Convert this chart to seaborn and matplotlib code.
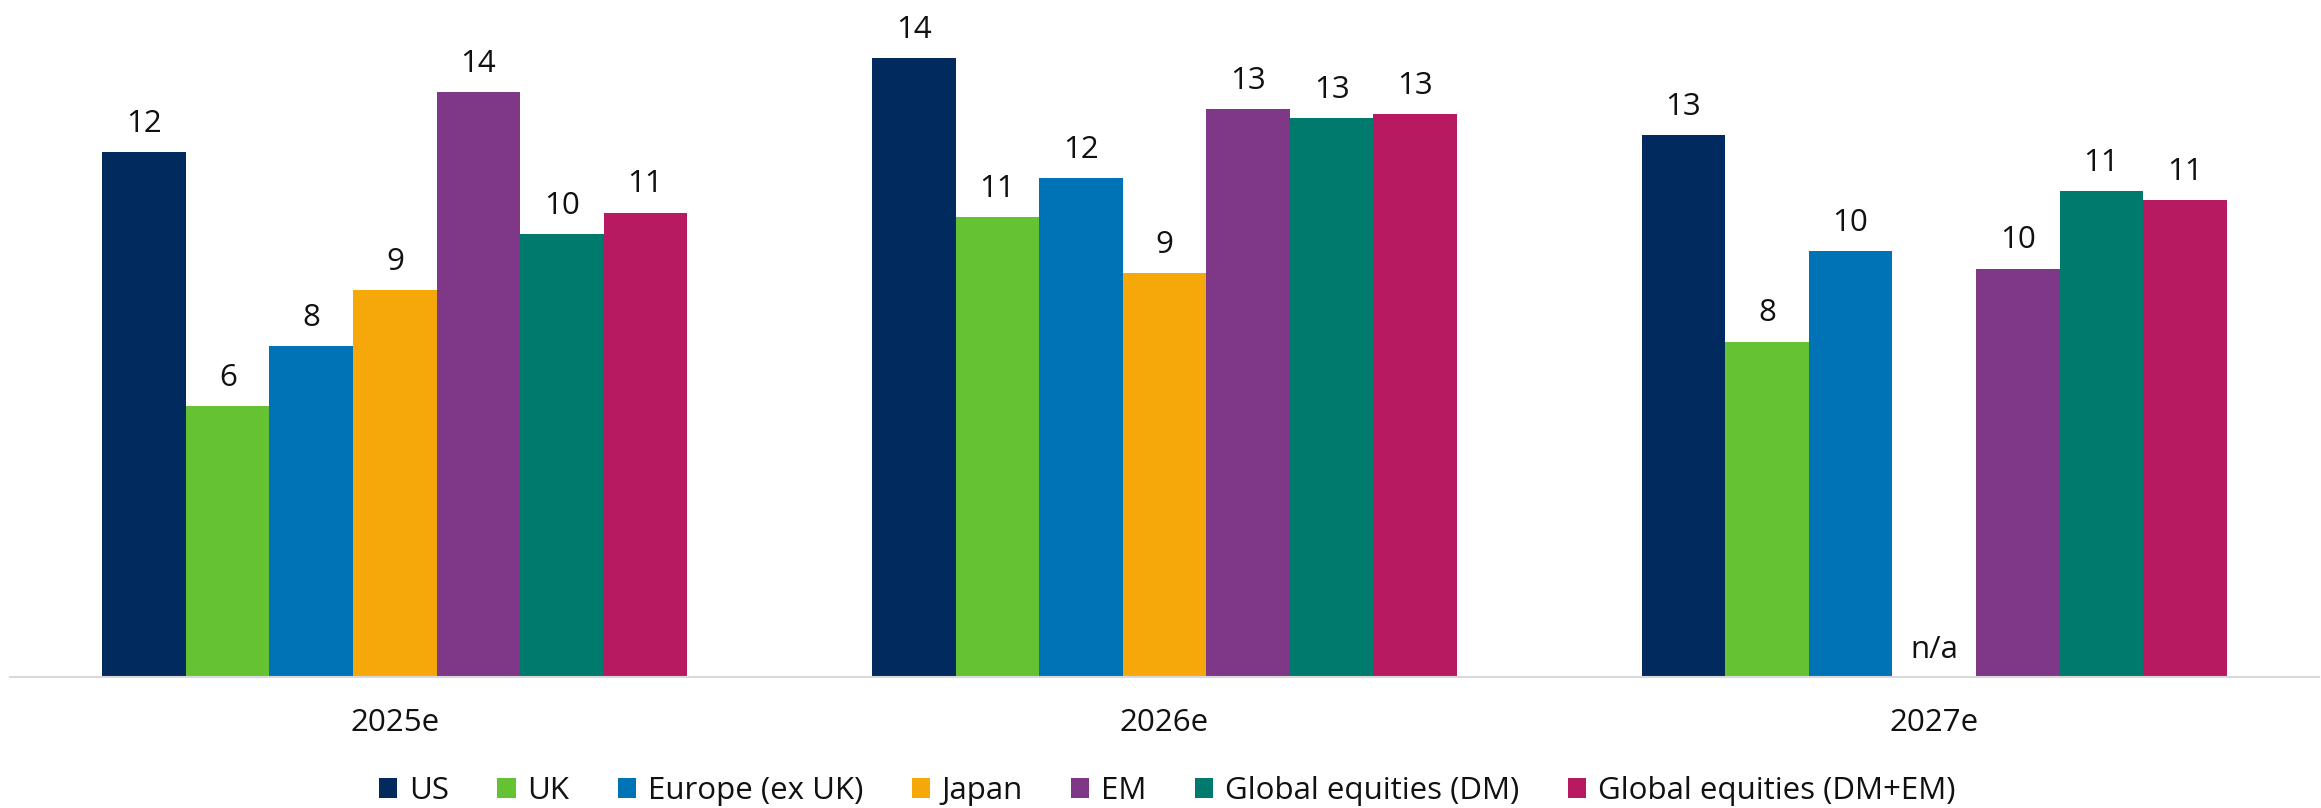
import matplotlib
matplotlib.use("Agg")
import matplotlib.pyplot as plt
import seaborn as sns
import pandas as pd
import numpy as np

# ---- data ----
years = ["2025e", "2026e", "2027e"]
regions = ["US", "UK", "Europe (ex UK)", "Japan", "EM",
           "Global equities (DM)", "Global equities (DM+EM)"]
us = [12.2, 14.4, 12.6]
uk = [6.3, 10.7, 7.8]
europe = [7.7, 11.6, 9.9]
japan = [9.0, 9.4, np.nan]
em = [13.6, 13.2, 9.5]
global_dm = [10.3, 13.0, 11.3]
global_dm_em = [10.8, 13.1, 11.1]
colors = ["#012A5E", "#65C333", "#0072B6", "#F6A80B", "#7E3887",
          "#007A6C", "#B71A60"]

series = [us, uk, europe, japan, em, global_dm, global_dm_em]
rows = []
for reg, vals in zip(regions, series):
    for yr, v in zip(years, vals):
        rows.append({"year": yr, "region": reg, "value": v})
df = pd.DataFrame(rows)

sns.set_theme(style="white")
plt.rcParams["font.family"] = ["Open Sans", "DejaVu Sans"]

FS = 22.5

fig = plt.figure(figsize=(23.21, 8.08), dpi=100)
ax = fig.add_axes([10 / 2321, (808 - 677) / 808, 2309 / 2321, 666.5 / 808])

sns.barplot(data=df, x="year", y="value", hue="region", order=years,
            hue_order=regions, palette=colors, width=0.76, errorbar=None,
            linewidth=0, saturation=1, ax=ax, legend=True)

ax.set_xlim(-0.5, 2.5)
ax.set_ylim(0, 15.5)

for cont in ax.containers:
    ax.bar_label(cont, fmt="%.0f", padding=9.5, fontsize=FS, color="#111111")

# n/a label for missing Japan 2027e
ax.annotate("n/a", xy=(2, 0), xytext=(0, 13.5), textcoords="offset points",
            ha="center", va="baseline", fontsize=FS, color="#111111")

for s in ["top", "left", "right"]:
    ax.spines[s].set_visible(False)
ax.spines["bottom"].set_color("#d9d9d9")
ax.spines["bottom"].set_linewidth(1.5)
ax.set_yticks([])
ax.set_xlabel("")
ax.set_ylabel("")
ax.tick_params(axis="x", length=0, pad=22.5, labelsize=FS, labelcolor="#111111")

h, l = ax.get_legend_handles_labels()
ax.legend_.remove()
fig.legend(h, l, loc="center", bbox_to_anchor=(1167 / 2321, 1 - 791 / 808),
           ncol=7, frameon=False, fontsize=FS, handlelength=0.58,
           handleheight=0.64, handletextpad=0.37, columnspacing=1.56,
           borderaxespad=0, borderpad=0, labelcolor="#111111")

fig.savefig("out.png", dpi=100)
